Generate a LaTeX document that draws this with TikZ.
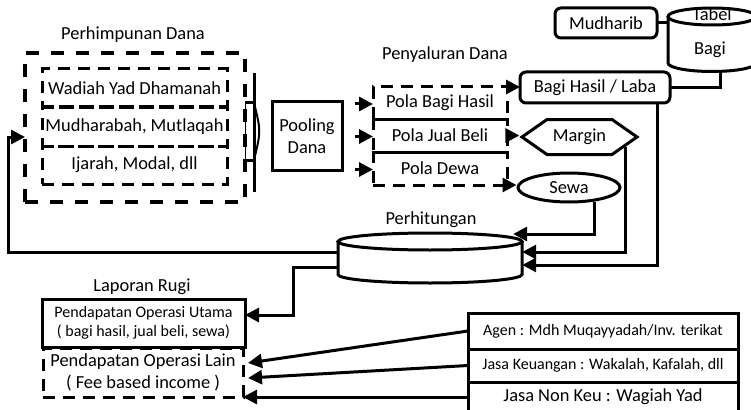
\documentclass[tikz,border=0pt]{standalone}
\usepackage{fontspec}
\setmainfont{Carlito}
\usetikzlibrary{arrows.meta, calc, shapes.geometric, shapes.symbols}

\tikzset{
  garis/.style={line width=3pt},
  panah/.style={garis, -{Triangle[length=14pt, width=14pt]}},
  kotak/.style={draw, garis, inner sep=0pt, outer sep=0pt},
  putus/.style={draw, garis, dash pattern=on 12pt off 8pt, inner sep=0pt, outer sep=0pt},
  besar/.style={font=\fontsize{18.4}{22}\selectfont},
  kecil/.style={font=\fontsize{16}{19}\selectfont},
}

\begin{document}
\begin{tikzpicture}[x=1pt, y=-1pt, besar]
\useasboundingbox (0,0) rectangle (751,409);

% Perhimpunan Dana
\node (judul1) at (133,35) {Perhimpunan Dana};
\node[putus, line width=3.5pt, dash pattern=on 13pt off 12pt, minimum width=220pt, minimum height=149pt] (himpun) at (135,127.5) {};
\node[putus, minimum width=185pt, minimum height=38pt] (wadiah) at (134.5,88) {Wadiah Yad Dhamanah};
\node[putus, minimum width=185pt, minimum height=39pt] (mudharabah) at (134.5,126.5) {Mudharabah, Mutlaqah};
\node[putus, minimum width=185pt, minimum height=38pt] (ijarah) at (134.5,165) {Ijarah, Modal, dll};

% kurung
\draw[garis] (254,73) -- (254,192);
\draw[garis] (245,103) -- (254,103) (245,160) -- (254,160);
\draw[line width=1pt] (245,103) -- (245,160);
\draw[line width=2pt] (254,103) .. controls (261,131) .. (254,160);

% Pooling Dana
\node[kotak, minimum width=70pt, minimum height=68pt, align=center] (pooling) at (307,136) {Pooling\\Dana};

% Penyaluran Dana
\node (judul2) at (445,55) {Penyaluran Dana};
\node[putus, minimum width=134pt, minimum height=32pt] (pola1) at (440,103) {Pola Bagi Hasil};
\node[putus, minimum width=134pt, minimum height=33pt] (pola2) at (440,135.5) {Pola Jual Beli};
\node[putus, minimum width=134pt, minimum height=33pt] (pola3) at (440,168.5) {Pola Dewa};
\foreach \p in {pola1,pola2,pola3}
  \draw[panah] ($(\p.west)+(-18,1)$) -- ($(\p.west)+(0,1)$);

% Bagi hasil, margin, sewa
\node[kotak, rounded corners=6pt, minimum width=150pt, minimum height=31pt] (bagi) at (595,87.5) {Bagi Hasil / Laba};
\node[kotak, rounded corners=6pt, minimum width=102pt, minimum height=30pt] (mudharib) at (606,23) {Mudharib};
\node[draw, garis, shape=signal, signal to=west and east, signal pointer angle=70, inner sep=0pt, minimum width=115pt, minimum height=35pt] (margin) at (579.5,137) {Margin};
\node[draw, garis, ellipse, inner sep=0pt, minimum width=102pt, minimum height=29pt] (sewa) at (569,187.5) {Sewa};

% Tabel Bagi
\node[minimum width=88pt, minimum height=64pt] (tabel) at (712,40) {};
\node[anchor=base] (tabel1) at (712,21) {Tabel};
\node[anchor=base] (tabel2) at (710,55) {Bagi};
\draw[garis] (712,16.5) ellipse [x radius=44, y radius=8.5];
\draw[garis] (668,16.5) -- (668,63) arc[start angle=180, end angle=0, x radius=44, y radius=8.5] -- (756,16.5);

\draw[panah] (pola1.north east) -- (pola1.north east -| bagi.west);
\draw[panah] (pola2.east) -- (pola2.east -| margin.west);
\draw[panah] (pola3.south east) -- (pola3.south east -| sewa.west);
\draw[garis] (mudharib.east) -- (mudharib.east -| tabel.west);
\draw[garis] ($(tabel.south)+(8,-2)$) |- (bagi.east);

% Perhitungan
\node (judul3) at (431,220) {Perhitungan};
\node[minimum width=184pt, minimum height=50pt] (perh) at (430,258) {};
\draw[garis] (430,241.5) ellipse [x radius=92, y radius=8.5];
\draw[garis] (338,241.5) -- (338,274.5) arc[start angle=180, end angle=0, x radius=92, y radius=8.5] -- (522,241.5);

\draw[panah] (sewa.-29) |- ($(perh.east)+(-9,-24)$);
\draw[panah] (margin.-12) |- ($(perh.east)+(0,-6)$);
\draw[panah] ($(bagi.south east)+(-13,0)$) |- ($(perh.east)+(0,7)$);
\draw[panah] ($(perh.west)+(0,-6)$) -| ($(himpun.west)+(-17,9.5)$) -- ($(himpun.west)+(0,9.5)$);

% Laporan Rugi
\node (judul4) at (142,287) {Laporan Rugi};
\node[kotak, kecil, align=center, minimum width=203pt, minimum height=48pt] (utama) at (143.5,323) {Pendapatan Operasi Utama\\( bagi hasil, jual beli, sewa)};
\node[putus, align=center, minimum width=200pt, minimum height=49pt] (lain) at (143,372.5) {Pendapatan Operasi Lain\\( Fee based income )};
\draw[panah] ($(perh.west)+(0,9)$) -| ($(utama.east)+(48,-8)$) -- ($(utama.east)+(0,-8)$);

% Jasa
\node[kotak, kecil, minimum width=270pt, minimum height=36pt] (agen) at (603,331) {Agen : Mdh Muqayyadah/Inv. terikat};
\node[kotak, kecil, minimum width=270pt, minimum height=33pt] (keu) at (603,365.5) {Jasa Keuangan : Wakalah, Kafalah, dll};
\node[kotak, minimum width=270pt, minimum height=30pt] (nonkeu) at (603,397) {Jasa Non Keu : Wagiah Yad};
\draw[panah] (agen.west) -- ($(lain.east)+(5,-9.5)$);
\draw[panah] (keu.west) -- ($(lain.east)+(5,5.5)$);
\draw[panah] (nonkeu.west) -- (nonkeu.west -| lain.east);

\end{tikzpicture}
\end{document}
